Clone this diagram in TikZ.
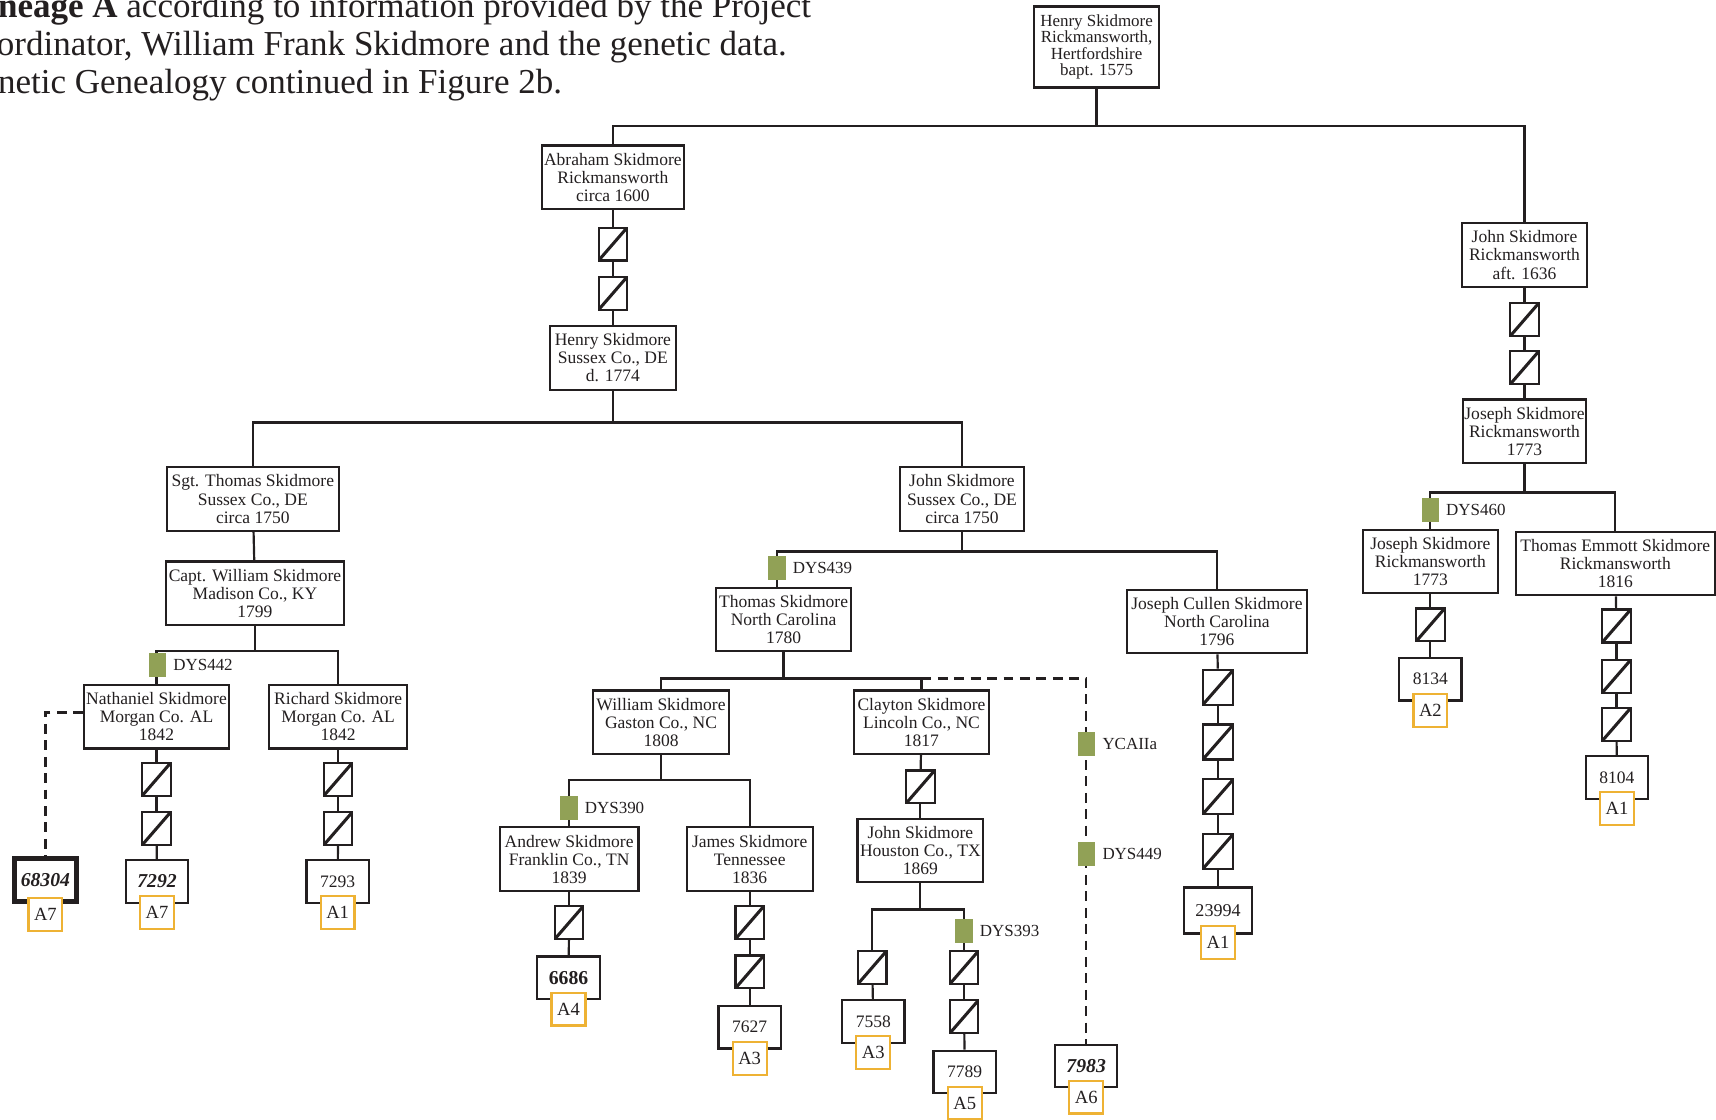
\documentclass[tikz,border=0pt]{standalone}
\usepackage{fontspec}
\setmainfont{Liberation Serif}
\usepackage{xcolor}
\usepackage{tikz}
\definecolor{ink}{RGB}{35,31,32}
\definecolor{snpgreen}{RGB}{145,161,86}
\definecolor{hapgold}{RGB}{238,178,52}
\pgfdeclarelayer{bg}
\pgfsetlayers{bg,main}
\tikzstyle{person}=[rectangle,draw=ink,line width=2pt,fill=white,text=ink,align=center,inner sep=0pt,minimum height=58pt,font=\fontsize{16}{16.5}\selectfont]
\tikzstyle{gap}=[rectangle,draw=ink,line width=2pt,fill=white,minimum width=26pt,minimum height=30pt,inner sep=0pt,path picture={\draw[ink,line width=2.8pt] (path picture bounding box.south west) -- (path picture bounding box.north east);}]
\tikzstyle{biggap}=[gap,minimum width=28pt,minimum height=32pt]
\tikzstyle{kit}=[rectangle,draw=ink,line width=2pt,fill=white,text=ink,minimum width=57pt,minimum height=39pt,inner sep=0pt,font=\fontsize{16}{16}\selectfont]
\tikzstyle{hap}=[rectangle,draw=hapgold,line width=2pt,fill=white,text=ink,minimum width=31pt,minimum height=30pt,inner sep=0pt,font=\fontsize{17}{17}\selectfont]
\tikzstyle{marker}=[rectangle,fill=snpgreen,minimum width=16pt,minimum height=22pt,inner sep=0pt]
\tikzstyle{mlabel}=[text=ink,inner sep=0pt,xshift=6pt,font=\fontsize{15.5}{15.5}\selectfont]
\tikzstyle{undirectededge} = [draw=ink,line width=2pt]
\tikzstyle{dashededge} = [draw=ink,line width=2pt,dash pattern=on 9pt off 6pt]
\tikzstyle{hdr}=[text=ink,inner sep=0pt,anchor=base west,font=\fontsize{32}{34}\selectfont]
\newcommand{\boldkit}[1]{{\fontsize{18}{18}\selectfont\bfseries #1}}

\begin{document}
\begin{tikzpicture}[x=1pt,y=-1pt]
\useasboundingbox (0,0) rectangle (1568,1023);

 %caption, cut by the page edge
 \node[hdr] (hdrA) at (-2,16) {\textbf{neage A} according to information provided by the Project};
 \node[hdr] (hdrB) at (-3,50.5) {ordinator, William Frank Skidmore and the genetic data.};
 \node[hdr] (hdrC) at (-2,85) {netic Genealogy continued in Figure 2b.};

 %root
 \node[person,minimum width=114pt,minimum height=74pt,font=\fontsize{15.5}{15}\selectfont] (henryR) at (1002,43) {Henry Skidmore\\Rickmansworth,\\Hertfordshire\\bapt. 1575};

 %B0 people
 \foreach \x/\y/\w/\name/\txt in {
   560/162/130/abraham/{Abraham Skidmore\\Rickmansworth\\circa 1600},
   560/327/115/henryS/{Henry Skidmore\\Sussex Co., DE\\d. 1774},
   231/456/157/thomasSgt/{Sgt. Thomas Skidmore\\Sussex Co., DE\\circa 1750},
   233/542/162/williamCapt/{Capt. William Skidmore\\Madison Co., KY\\1799},
   143/655/132/nathaniel/{Nathaniel Skidmore\\Morgan Co. AL\\1842},
   309/655/126/richard/{Richard Skidmore\\Morgan Co. AL\\1842},
   879/456/114/johnS/{John Skidmore\\Sussex Co., DE\\circa 1750},
   716/566/123/thomasNC/{Thomas Skidmore\\North Carolina\\1780},
   604/660/124/williamG/{William Skidmore\\Gaston Co., NC\\1808},
   520/785/127/andrew/{Andrew Skidmore\\Franklin Co., TN\\1839},
   685/785/115/james/{James Skidmore\\Tennessee\\1836},
   842/660/124/clayton/{Clayton Skidmore\\Lincoln Co., NC\\1817},
   841/777/115/johnH/{John Skidmore\\Houston Co., TX\\1869},
   1112/568/165/josephC/{Joseph Cullen Skidmore\\North Carolina\\1796},
   1393/233/114/johnR/{John Skidmore\\Rickmansworth\\aft. 1636},
   1393/394/113/josephR/{Joseph Skidmore\\Rickmansworth\\1773},
   1307/513/123/josephRb/{Joseph Skidmore\\Rickmansworth\\1773},
   1476/515/182/thomasE/{Thomas Emmott Skidmore\\Rickmansworth\\1816}}
        \node[person,minimum width=\w pt] (\name) at (\x,\y) {\txt};

 %B1 generation gaps
 \foreach \x/\y/\name in {560/223/g1, 560/268/g2, 143/712/g3, 143/757/g4, 309/712/g5, 309/757/g6,
   520/843/g7, 685/843/g8, 685/888/g9, 841/719/g10, 797/884/g11, 881/884/g12, 881/929/g13,
   1393/292/g18, 1393/336/g19, 1307/571/g20, 1477/572/g21, 1477/618/g22, 1477/662/g23}
        \node[gap] (\name) at (\x,\y) {};
 \foreach \x/\y/\name in {1113/628/g14, 1113/678/g15, 1113/728/g16, 1113/778/g17}
        \node[biggap] (\name) at (\x,\y) {};

 %B2 kits and haplotypes
 \foreach \x/\y/\name/\num/\hp in {143.5/805.5/r7292/{\boldkit{\itshape 7292}}/A7,
   308.5/805.5/r7293/7293/A1, 519.5/893.5/r6686/{\boldkit{6686}}/A4, 685/938.5/r7627/7627/A3,
   798/933.5/r7558/7558/A3, 881.5/979.5/r7789/7789/A5, 992.5/974/r7983/{\boldkit{\itshape 7983}}/A6,
   1307/620.5/r8134/8134/A2, 1477.5/710.5/r8104/8104/A1}
   {\node[kit] (\name) at (\x,\y) {\num};
    \node[hap] (h\name) at ([yshift=-8pt]\name.south) {\hp};}
 \node[kit,line width=4.5pt] (r68304) at (41.5,804) {\boldkit{\itshape 68304}};
 \node[hap] (hr68304) at ([yshift=-10pt]r68304.south) {A7};
 \node[kit,minimum width=62pt,minimum height=42pt,font=\fontsize{16.5}{16.5}\selectfont] (r23994) at (1113,832) {23994};
 \node[hap] (hr23994) at ([yshift=-7pt]r23994.south) {A1};

 %B3 mutations
 \foreach \x/\y/\name/\snp in {144/608/m442/DYS442, 710/519/m439/DYS439, 520/738/m390/DYS390,
   881/851/m393/DYS393, 1307/466/m460/DYS460, 993/680/mYCA/YCAIIa, 993/780/m449/DYS449}
        \node[marker,label={[mlabel]right:\snp}] (\name) at (\x,\y) {};

 \begin{pgfonlayer}{bg}
  %sibling bars
  \path[undirectededge] (henryR.south) -- ++(0,34) -| (abraham.north);
  \path[undirectededge] (henryR.south) -- ++(0,34) -| (johnR.north);
  \path[undirectededge] (henryS.south) -- ++(0,29) -| (thomasSgt.north);
  \path[undirectededge] (henryS.south) -- ++(0,29) -| (johnS.north);
  \path[undirectededge] (williamCapt.south) -- ++(0,23) -| (nathaniel.north);
  \path[undirectededge] (williamCapt.south) -- ++(0,23) -| (richard.north);
  \path[undirectededge] (johnS.south) -- ++(0,18) -| (m439 |- thomasNC.north);
  \path[undirectededge] (johnS.south) -- ++(0,18) -| (josephC.north);
  \path[undirectededge] (thomasNC.south) -- ++(0,24) -| (williamG.north);
  \path[undirectededge] (thomasNC.south) -- ++(0,24) -| (clayton.north);
  \path[undirectededge] (williamG.south) -- ++(0,23) -| (andrew.north);
  \path[undirectededge] (williamG.south) -- ++(0,23) -| (james.north);
  \path[undirectededge] (johnH.south) -- ++(0,24) -| (g11.north);
  \path[undirectededge] (johnH.south) -- ++(0,24) -| (g12.north);
  \path[undirectededge] (josephR.south) -- ++(0,26) -| (josephRb.north);
  \path[undirectededge] (josephR.south) -- ++(0,26) -| (thomasE.north);

  %uncertain links
  \coordinate (tbar) at ([yshift=-24pt]thomasNC.south);
  \path[dashededge] (clayton.north |- tbar) -| (r7983.north);
  \path[dashededge] ([yshift=4pt]nathaniel.west) -| (r68304.north);

  %chains
  \foreach \source/ \dest in {abraham/g1, g1/g2, g2/henryS, thomasSgt/williamCapt,
    nathaniel/g3, g3/g4, g4/r7292, richard/g5, g5/g6, g6/r7293,
    andrew/g7, g7/r6686, james/g8, g8/g9, g9/r7627, clayton/g10, g10/johnH,
    g11/r7558, g12/g13, g13/r7789, josephC/g14, g14/g15, g15/g16, g16/g17, g17/r23994,
    johnR/g18, g18/g19, g19/josephR, josephRb/g20, g20/r8134,
    thomasE/g21, g21/g22, g22/g23, g23/r8104}
         \path[undirectededge] (\source) -- (\dest);
 \end{pgfonlayer}

\end{tikzpicture}
\end{document}
